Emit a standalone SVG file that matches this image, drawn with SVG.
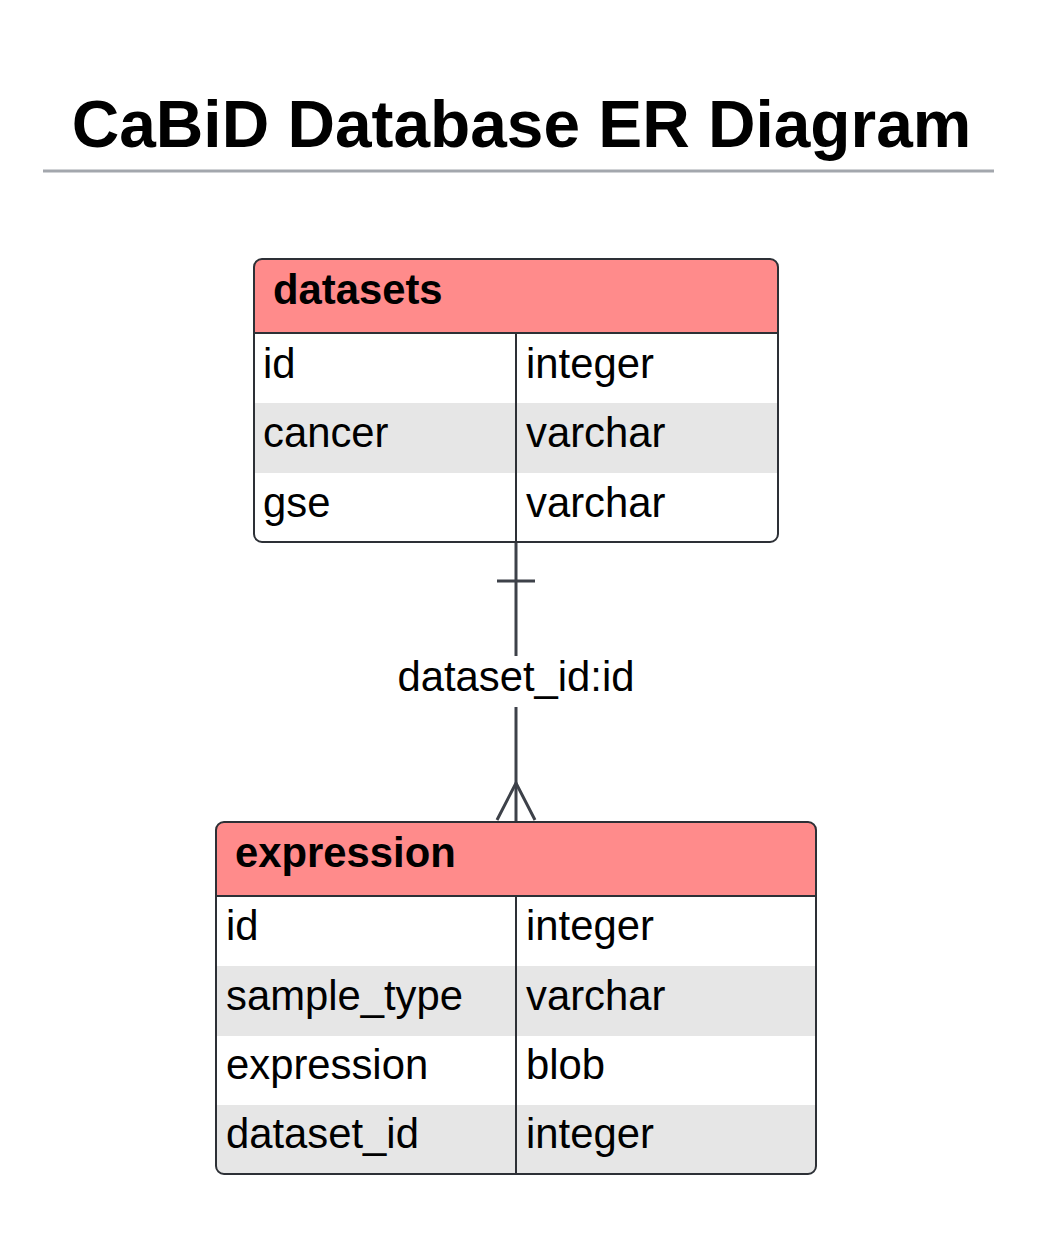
<svg xmlns="http://www.w3.org/2000/svg" width="1054" height="1249" viewBox="0 0 1054 1249">
<style>
.title{font-family:"Liberation Sans",Arial,sans-serif;font-weight:bold;font-size:65.8px;fill:#000}
.hdr{font-family:"Liberation Sans",Arial,sans-serif;font-weight:bold;font-size:41.8px;fill:#000}
.cell{font-family:"Liberation Sans",Arial,sans-serif;font-size:41.8px;fill:#000}
.lbl{font-family:"Liberation Sans",Arial,sans-serif;font-size:41.8px;fill:#000}
.hfill{fill:#ff8b8b}
.alt{fill:#e6e6e6}
.border{fill:none;stroke:#2d3036;stroke-width:2}
.div{stroke:#2d3036;stroke-width:2}
.conn{stroke:#3d4149;stroke-width:3;fill:none}
</style>
<rect width="1054" height="1249" fill="#fff"/>
<g id="title">
<text class="title" x="521.5" y="147" text-anchor="middle">CaBiD Database ER Diagram</text>
<line x1="43" y1="171" x2="994" y2="171" stroke="#a3a7ad" stroke-width="3"/>
</g>
<g id="connectors">
<line class="conn" x1="516" y1="542" x2="516" y2="656"/>
<line class="conn" x1="516" y1="707" x2="516" y2="822"/>
<line class="conn" x1="497" y1="581" x2="535" y2="581"/>
<polyline class="conn" stroke-width="2.5" points="497,820 516,783 535,820"/>
<text class="lbl" x="516" y="691" text-anchor="middle">dataset_id:id</text>
</g>
<g id="datasets">
<path class="hfill" d="M254,333 V267 A8,8 0 0 1 262,259 H770 A8,8 0 0 1 778,267 V333 Z"/>
<rect class="alt" x="254" y="403" width="524" height="70"/>
<line class="div" x1="254" y1="333" x2="778" y2="333"/>
<line class="div" x1="516" y1="333" x2="516" y2="542"/>
<rect class="border" x="254" y="259" width="524" height="283" rx="8"/>
<text class="hdr" x="273" y="304">datasets</text>
<text class="cell" x="263" y="378">id</text>
<text class="cell" x="526" y="378">integer</text>
<text class="cell" x="263" y="447">cancer</text>
<text class="cell" x="526" y="447">varchar</text>
<text class="cell" x="263" y="517">gse</text>
<text class="cell" x="526" y="517">varchar</text>
</g>
<g id="expression">
<path class="hfill" d="M216,896 V830 A8,8 0 0 1 224,822 H808 A8,8 0 0 1 816,830 V896 Z"/>
<rect class="alt" x="216" y="966" width="600" height="70"/>
<path class="alt" d="M216,1105 H816 V1166 A8,8 0 0 1 808,1174 H224 A8,8 0 0 1 216,1166 Z"/>
<line class="div" x1="216" y1="896" x2="816" y2="896"/>
<line class="div" x1="516" y1="896" x2="516" y2="1174"/>
<rect class="border" x="216" y="822" width="600" height="352" rx="8"/>
<text class="hdr" x="235" y="867">expression</text>
<text class="cell" x="226" y="940">id</text>
<text class="cell" x="526" y="940">integer</text>
<text class="cell" x="226" y="1010">sample_type</text>
<text class="cell" x="526" y="1010">varchar</text>
<text class="cell" x="226" y="1079">expression</text>
<text class="cell" x="526" y="1079">blob</text>
<text class="cell" x="226" y="1148">dataset_id</text>
<text class="cell" x="526" y="1148">integer</text>
</g>
</svg>
